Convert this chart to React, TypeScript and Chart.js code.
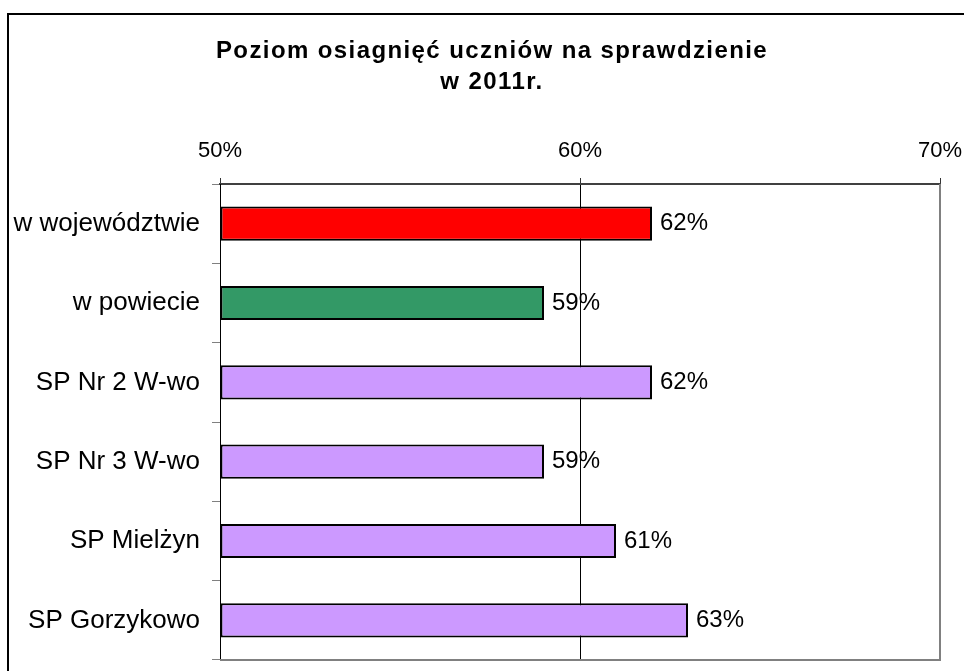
import React, { useEffect, useRef } from 'react';
import { Chart, registerables } from 'chart.js';

Chart.register(...registerables);

const categories = ['w województwie', 'w powiecie', 'SP Nr 2 W-wo', 'SP Nr 3 W-wo', 'SP Mielżyn', 'SP Gorzykowo'];
const values = [0.62, 0.59, 0.62, 0.59, 0.61, 0.63];
const barColors = ['#FF0000', '#339966', '#CC99FF', '#CC99FF', '#CC99FF', '#CC99FF'];
const titleLines = ['Poziom osiagnięć uczniów na sprawdzienie', 'w 2011r.'];
const axisMin = 0.5;
const axisMax = 0.7;
const axisStep = 0.1;

const FONT = '"Liberation Sans", Arial, sans-serif';
const pct = (v: number) => Math.round(v * 100) + '%';

const deco = {
  id: 'deco',
  beforeDraw(chart: any) {
    const { ctx, width, height } = chart;
    ctx.save();
    ctx.fillStyle = '#fff';
    ctx.fillRect(0, 0, width, height);
    ctx.strokeStyle = '#000';
    ctx.lineWidth = 2;
    ctx.strokeRect(8, 14, width + 20, height + 20);
    ctx.fillStyle = '#000';
    ctx.font = 'bold 24px ' + FONT;
    (ctx as any).letterSpacing = '1.4px';
    ctx.textAlign = 'center';
    ctx.textBaseline = 'alphabetic';
    const cx = 492;
    ctx.fillText(titleLines[0], cx, 58);
    ctx.fillText(titleLines[1], cx, 89);
    ctx.restore();
  },
  afterDraw(chart: any) {
    const { ctx, chartArea } = chart;
    ctx.save();
    ctx.strokeStyle = '#808080';
    ctx.lineWidth = 2;
    ctx.beginPath();
    ctx.moveTo(chartArea.right, chartArea.top);
    ctx.lineTo(chartArea.right, chartArea.bottom);
    ctx.lineTo(chartArea.left, chartArea.bottom);
    ctx.stroke();
    const meta = chart.getDatasetMeta(0);
    ctx.fillStyle = '#000';
    ctx.font = '24px ' + FONT;
    ctx.textAlign = 'left';
    ctx.textBaseline = 'middle';
    meta.data.forEach((bar: any, i: number) => {
      ctx.fillText(pct(values[i]), bar.x + 8, bar.y);
    });
    ctx.restore();
  },
};

export default function App() {
  const ref = useRef<HTMLCanvasElement>(null);
  useEffect(() => {
    if (!ref.current) return;
    const chart = new Chart(ref.current, {
      type: 'bar',
      data: {
        labels: categories,
        datasets: [
          {
            data: values,
            backgroundColor: barColors,
            borderColor: '#000',
            borderWidth: 2,
            borderSkipped: false,
            base: axisMin,
            categoryPercentage: 1,
            barPercentage: 0.43,
          } as any,
        ],
      },
      options: {
        indexAxis: 'y',
        animation: false,
        responsive: true,
        maintainAspectRatio: false,
        layout: { padding: { left: 0, top: 0, right: 24, bottom: 11 } },
        plugins: { legend: { display: false }, tooltip: { enabled: false }, title: { display: false } },
        scales: {
          x: {
            type: 'linear',
            position: 'top',
            min: axisMin,
            max: axisMax,
            ticks: {
              stepSize: axisStep,
              callback: (v: any) => pct(Number(v)),
              font: { family: FONT, size: 22 },
              color: '#000',
              padding: 14,
              maxRotation: 0,
            },
            grid: {
              drawOnChartArea: true,
              drawTicks: true,
              tickLength: 6,
              tickColor: '#333',
              lineWidth: 1,
              color: (c: any) => (c.tick && Math.abs(c.tick.value - 0.6) < 1e-6 ? '#000' : 'rgba(0,0,0,0)'),
            },
            border: { display: true, color: '#404040', width: 2 },
            afterFit: (s: any) => {
              s.height = 184;
              s.paddingLeft = 0;
              s.paddingRight = 0;
            },
          },
          y: {
            type: 'category',
            ticks: {
              font: { family: FONT, size: 26 },
              color: '#000',
              padding: 12,
              autoSkip: false,
            },
            grid: {
              offset: true,
              drawOnChartArea: false,
              drawTicks: true,
              tickLength: 8,
              tickColor: '#808080',
            },
            border: { display: true, color: '#000', width: 1 },
            afterFit: (s: any) => {
              s.width = 220;
              s.paddingTop = 0;
              s.paddingBottom = 0;
            },
          },
        },
      },
      plugins: [deco],
    });
    return () => chart.destroy();
  }, []);
  return (
    <div style={{ position: 'fixed', left: 0, top: 0, width: 964, height: 671 }}>
      <canvas ref={ref} />
    </div>
  );
}
